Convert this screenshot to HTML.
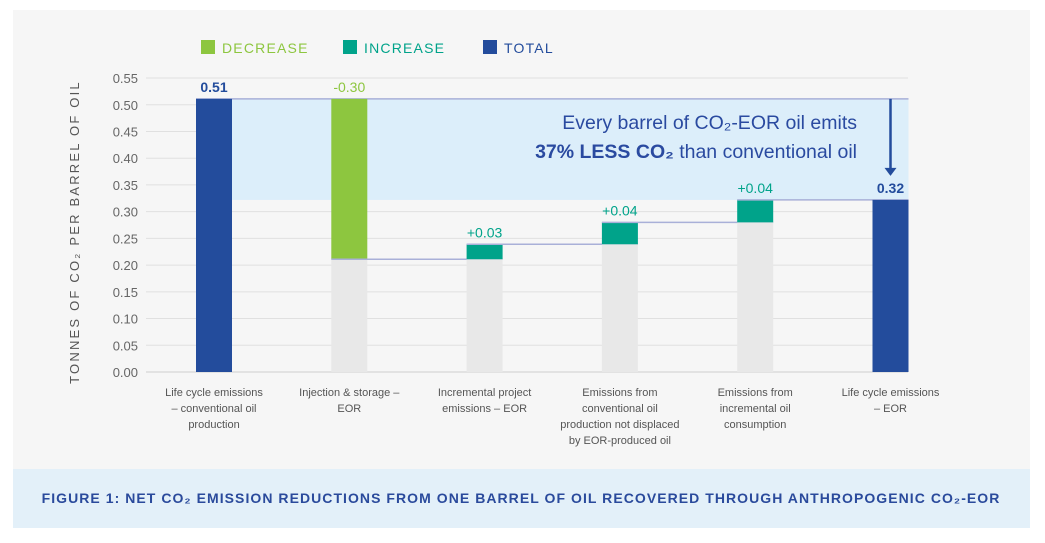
<!DOCTYPE html>
<html><head><meta charset="utf-8"><style>
body{margin:0;width:1045px;height:538px;background:#fff;overflow:hidden;font-family:"Liberation Sans",sans-serif}
</style></head><body>
<svg width="1045" height="538" xmlns="http://www.w3.org/2000/svg" style="font-family:'Liberation Sans',sans-serif">
<rect x="13" y="10" width="1017" height="460" fill="#f6f6f6"/>
<rect x="13" y="469" width="1017" height="59" fill="#e3f0f9"/>
<text x="521" y="503" text-anchor="middle" font-size="14" font-weight="bold" fill="#2a4a9c" letter-spacing="1.05">FIGURE 1: NET CO₂ EMISSION REDUCTIONS FROM ONE BARREL OF OIL RECOVERED THROUGH ANTHROPOGENIC CO₂-EOR</text>
<g>
<rect x="201" y="40" width="14" height="14" fill="#8dc63f"/>
<text x="222" y="53" font-size="14" fill="#8dc63f" letter-spacing="1.2">DECREASE</text>
<rect x="343" y="40" width="14" height="14" fill="#00a38a"/>
<text x="364" y="53" font-size="14" fill="#00a38a" letter-spacing="1.2">INCREASE</text>
<rect x="483" y="40" width="14" height="14" fill="#234c9c"/>
<text x="504" y="53" font-size="14" fill="#234c9c" letter-spacing="1.2">TOTAL</text>
</g>
<text transform="translate(79,232) rotate(-90)" text-anchor="middle" font-size="13" fill="#555" letter-spacing="2.2">TONNES OF CO₂ PER BARREL OF OIL</text>
<g id="grid"></g><g id="band"></g><g id="bars"></g><g id="labels"></g>
<text x="857" y="129" text-anchor="end" font-size="19.5" fill="#2a4aa0">Every barrel of CO₂-EOR oil emits</text>
<text x="857" y="158" text-anchor="end" font-size="19.5" fill="#2a4aa0"><tspan font-weight="bold">37% LESS CO₂</tspan> than conventional oil</text>
</svg>
<script>
const categories=[["Life cycle emissions","– conventional oil","production"],["Injection & storage –","EOR"],["Incremental project","emissions – EOR"],["Emissions from","conventional oil","production not displaced","by EOR-produced oil"],["Emissions from","incremental oil","consumption"],["Life cycle emissions","– EOR"]];
const types=["total","decrease","increase","increase","increase","total"];
const values=[0.511,-0.30,0.028,0.041,0.042,0.322];
const valueLabels=["0.51","-0.30","+0.03","+0.04","+0.04","0.32"];
const yTicks=[0,0.05,0.10,0.15,0.20,0.25,0.30,0.35,0.40,0.45,0.50,0.55];
const NS="http://www.w3.org/2000/svg";
const yScale=v=>372-v*534.5;
const xScale=i=>214+i*135.3;
const colors={total:"#234c9c",decrease:"#8dc63f",increase:"#00a38a"};
function mk(p,tag,at){const e=document.createElementNS(NS,tag);for(const k in at)e.setAttribute(k,at[k]);document.getElementById(p).appendChild(e);return e;}
yTicks.forEach(t=>{
 const l=mk("grid","line",{x1:146,x2:908,y1:yScale(t),y2:yScale(t),stroke:t===0?"#e2e2e2":"#e0e0e0","stroke-width":t===0?2:1});
 
 
 const tx=mk("grid","text",{x:138,y:yScale(t)+5,"text-anchor":"end","font-size":13,fill:"#666"});
 tx.textContent=t.toFixed(2);
 
 
});
let run=0;const lo=[],hi=[];
values.forEach((v,i)=>{
 if(types[i]==="total"){lo.push(0);hi.push(v);run=v;}
 else{const a=run,b=run+v;lo.push(Math.min(a,b));hi.push(Math.max(a,b));run=b;}
});
const bw=36;
const last=values.length-1;
const bandRect=mk("band","rect",{x:xScale(0)+bw/2,y:yScale(hi[0]),width:xScale(last)+bw/2-(xScale(0)+bw/2),height:yScale(hi[last])-yScale(hi[0]),fill:"#dceefa"});


const topLine=mk("band","line",{x1:xScale(0)-bw/2,x2:xScale(last)+bw/2,y1:yScale(hi[0]),y2:yScale(hi[0]),stroke:"#a9b0d8","stroke-width":1.5});


values.forEach((v,i)=>{
 if(types[i]!=="total"&&lo[i]>0){
  const g=mk("bars","rect",{x:xScale(i)-bw/2,y:yScale(lo[i]),width:bw,height:yScale(0)-yScale(lo[i]),fill:"#e8e8e8"});
  
  
 }
 const r=mk("bars","rect",{x:xScale(i)-bw/2,y:yScale(hi[i]),width:bw,height:yScale(lo[i])-yScale(hi[i]),fill:colors[types[i]]});
 
 
 if(i<last&&i>0){
  const lvl=types[i]==="decrease"?lo[i]:hi[i];
  const c=mk("bars","line",{x1:xScale(i)-bw/2,x2:xScale(i+1)+bw/2,y1:yScale(lvl),y2:yScale(lvl),stroke:"#a9b0d8","stroke-width":1.5});
  
  
 }
 const t=mk("labels","text",{x:xScale(i),y:yScale(hi[i])-7,"text-anchor":"middle","font-size":14,fill:colors[types[i]],"font-weight":types[i]==="total"?"bold":"normal"});
 t.textContent=valueLabels[i];
 
 
 categories[i].forEach((ln,j)=>{
  const c=mk("labels","text",{x:xScale(i),y:396+j*16,"text-anchor":"middle","font-size":11,fill:"#555"});
  c.textContent=ln;
  
  
 });
});
const ax=xScale(last);
const ar=mk("labels","line",{x1:ax,x2:ax,y1:yScale(hi[0]),y2:yScale(hi[last])-30,stroke:"#234c9c","stroke-width":2.5});


const ah=mk("labels","path",{d:`M${ax-6},${yScale(hi[last])-32} L${ax+6},${yScale(hi[last])-32} L${ax},${yScale(hi[last])-24} Z`,fill:"#234c9c"});


</script>
</body></html>
